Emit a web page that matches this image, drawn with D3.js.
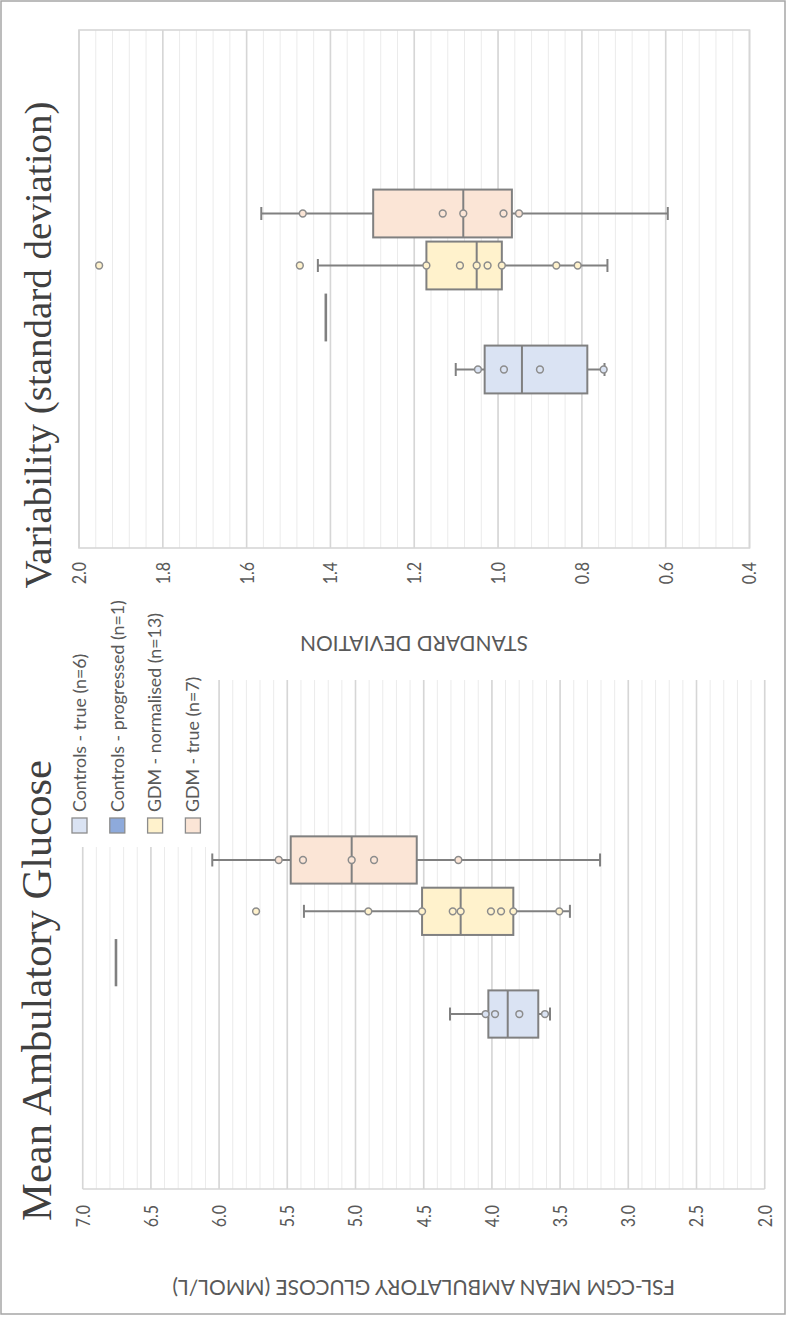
<!DOCTYPE html>
<html>
<head>
<meta charset="utf-8">
<script src="https://cdn.jsdelivr.net/npm/d3@7"></script>
<style>
  body { margin: 0; background: #ffffff; }
  svg { display: block; }
</style>
</head>
<body>
<svg id="chart" width="787" height="1317"></svg>
<script>
// ---------------- DATA ----------------
const series = ["Controls - true (n=6)", "Controls - progressed (n=1)", "GDM - normalised (n=13)", "GDM - true (n=7)"];
const seriesColors = ["#dae3f3", "#8eaadb", "#fff2cc", "#fbe5d6"];

// Mean ambulatory glucose (mmol/L)
const magTickLabels = [2.0, 2.5, 3.0, 3.5, 4.0, 4.5, 5.0, 5.5, 6.0, 6.5, 7.0];
const magQ1          = [3.660, 6.756, 3.843, 4.551];
const magMedian      = [3.884, 6.756, 4.229, 5.028];
const magQ3          = [4.026, 6.756, 4.512, 5.475];
const magWhiskerLow  = [3.574, 6.756, 3.428, 3.207];
const magWhiskerHigh = [4.307, 6.756, 5.378, 6.050];
const magPoints = [
  [4.046, 3.977, 3.799, 3.611],
  [],
  [5.729, 4.906, 4.512, 4.287, 4.229, 4.007, 3.933, 3.843, 3.506],
  [5.563, 5.385, 5.028, 4.864, 4.246]
];

// Variability (standard deviation)
const sdTickLabels = [0.4, 0.6, 0.8, 1.0, 1.2, 1.4, 1.6, 1.8, 2.0];
const sdQ1          = [0.787, 1.411, 0.991, 0.967];
const sdMedian      = [0.943, 1.411, 1.051, 1.083];
const sdQ3          = [1.032, 1.411, 1.171, 1.298];
const sdWhiskerLow  = [0.746, 1.411, 0.739, 0.595];
const sdWhiskerHigh = [1.101, 1.411, 1.430, 1.565];
const sdPoints = [
  [1.048, 0.986, 0.900, 0.748],
  [],
  [1.952, 1.473, 1.171, 1.091, 1.051, 1.025, 0.991, 0.861, 0.810],
  [1.466, 1.132, 1.083, 0.987, 0.950]
];

// ---------------- DRAWING ----------------
const svg = d3.select("#chart");
const FIG_W = 1317; // the figure is drawn landscape and then turned a quarter turn

const root = svg.append("g").attr("transform", `translate(0,${FIG_W}) rotate(-90)`);

const SANS = "Lato, 'Open Sans', 'Liberation Sans', sans-serif";
const SERIF = "'Liberation Serif', 'Times New Roman', serif";

function fitLen(sel, target) {
  const len = sel.node().getComputedTextLength();
  const fs = parseFloat(sel.attr("font-size"));
  sel.attr("font-size", fs * target / len);
  return fs * target / len;
}

function buildStats(q1, med, q3, wl, wh, pts) {
  return series.map((name, i) => ({
    name, color: seriesColors[i],
    q1: q1[i], median: med[i], q3: q3[i], lo: wl[i], hi: wh[i], points: pts[i]
  }));
}

function panel(o) {
  const g = root.append("g");
  const y = o.y;
  const [d0, d1] = y.domain();
  const nMinor = Math.round((d1 - d0) / o.minorStep);
  const minor = d3.range(nMinor + 1).map(i => d0 + i * o.minorStep);

  // gridlines
  g.append("g").selectAll("line").data(minor).join("line")
    .attr("x1", o.x0).attr("x2", o.x1)
    .attr("y1", d => y(d)).attr("y2", d => y(d))
    .attr("stroke", "#ebebeb").attr("stroke-width", 1);
  g.append("g").selectAll("line").data(o.ticks).join("line")
    .attr("x1", o.x0).attr("x2", o.x1)
    .attr("y1", d => y(d)).attr("y2", d => y(d))
    .attr("stroke", "#d6d6d6").attr("stroke-width", 1.6);

  // plot frame
  if (o.frame) {
    g.append("rect")
      .attr("x", o.x0).attr("y", y(d1)).attr("width", o.x1 - o.x0).attr("height", y(d0) - y(d1))
      .attr("fill", "none").attr("stroke", "#d6d6d6").attr("stroke-width", 1.6);
  } else {
    g.append("line").attr("x1", o.x0).attr("x2", o.x0).attr("y1", y(d1)).attr("y2", y(d0))
      .attr("stroke", "#d6d6d6").attr("stroke-width", 1.6);
  }

  // value axis
  const ax = g.append("g").attr("transform", `translate(${o.x0},0)`)
    .call(d3.axisLeft(y).tickValues(o.ticks).tickFormat(d3.format(".1f")).tickSize(0).tickPadding(o.pad));
  ax.select(".domain").remove();
  const sx = 0.8;
  ax.selectAll("text")
    .attr("font-family", SANS).attr("font-size", 20).attr("fill", "#595959")
    .attr("transform", `scale(${sx},1)`).attr("x", -o.pad / sx);

  // boxes
  const band = d3.scaleBand().domain(series).range(o.bandRange).paddingInner(0.08).paddingOuter(0.04);
  const bw = band.bandwidth();
  const cap = 13;
  const boxes = g.append("g").selectAll("g").data(o.stats).join("g")
    .attr("transform", d => `translate(${band(d.name)},0)`);

  boxes.each(function(d) {
    const b = d3.select(this);
    const cx = bw / 2;
    const stroke = "#808080";
    if (d.q3 > d.q1) {
      b.append("line").attr("x1", cx).attr("x2", cx).attr("y1", y(d.hi)).attr("y2", y(d.q3))
        .attr("stroke", stroke).attr("stroke-width", 2);
      b.append("line").attr("x1", cx).attr("x2", cx).attr("y1", y(d.q1)).attr("y2", y(d.lo))
        .attr("stroke", stroke).attr("stroke-width", 2);
      b.append("line").attr("x1", cx - cap / 2).attr("x2", cx + cap / 2).attr("y1", y(d.hi)).attr("y2", y(d.hi))
        .attr("stroke", stroke).attr("stroke-width", 2);
      b.append("line").attr("x1", cx - cap / 2).attr("x2", cx + cap / 2).attr("y1", y(d.lo)).attr("y2", y(d.lo))
        .attr("stroke", stroke).attr("stroke-width", 2);
      b.append("rect").attr("x", 0).attr("width", bw)
        .attr("y", y(d.q3)).attr("height", y(d.q1) - y(d.q3))
        .attr("fill", d.color).attr("stroke", stroke).attr("stroke-width", 2);
      b.append("line").attr("x1", 0).attr("x2", bw).attr("y1", y(d.median)).attr("y2", y(d.median))
        .attr("stroke", stroke).attr("stroke-width", 2);
    } else {
      b.append("line").attr("x1", 0).attr("x2", bw).attr("y1", y(d.median)).attr("y2", y(d.median))
        .attr("stroke", stroke).attr("stroke-width", 2.6);
    }
    b.selectAll("circle").data(d.points).join("circle")
      .attr("cx", cx).attr("cy", v => y(v)).attr("r", 3.4)
      .attr("fill", d.color).attr("stroke", "#8c8c8c").attr("stroke-width", 1.5);
  });
  return g;
}

// ---- left chart: Mean Ambulatory Glucose ----
const yMag = d3.scaleLinear().domain([2, 7]).range([764.7, 82.7]);
panel({
  x0: 128, x1: 637, y: yMag, minorStep: 0.1, ticks: magTickLabels, pad: 16, frame: false,
  bandRange: [277.3, 482.7],
  stats: buildStats(magQ1, magMedian, magQ3, magWhiskerLow, magWhiskerHigh, magPoints)
});

// legend (sits over the upper right of the left plot)
const leg = root.append("g");
leg.append("rect").attr("x", 470).attr("y", 60).attr("width", 256).attr("height", 157)
  .attr("fill", "#ffffff");
const legItems = leg.selectAll("g").data(series).join("g")
  .attr("transform", (d, i) => `translate(484,${79.5 + i * 37.8})`);
legItems.append("rect").attr("x", 0).attr("y", -7.5).attr("width", 15).attr("height", 15)
  .attr("fill", (d, i) => seriesColors[i]).attr("stroke", "#8c8c8c").attr("stroke-width", 1.3);
const legTexts = legItems.append("text").attr("x", 21).attr("dy", "0.35em")
  .attr("font-family", SANS).attr("font-size", 18).attr("fill", "#595959")
  .text(d => d);
const legFs = fitLen(d3.select(legTexts.nodes()[1]), 212);
legTexts.attr("font-size", legFs);

// titles
const t1 = root.append("text").attr("x", 326.5).attr("y", 51).attr("text-anchor", "middle")
  .attr("font-family", SERIF).attr("font-size", 42).attr("fill", "#404040")
  .text("Mean Ambulatory Glucose");
fitLen(t1, 461);
const t2 = root.append("text").attr("x", 972).attr("y", 51).attr("text-anchor", "middle")
  .attr("font-family", SERIF).attr("font-size", 40).attr("fill", "#404040")
  .text("Variability (standard deviation)");
fitLen(t2, 487);

// axis titles
const at1 = root.append("text").attr("transform", "translate(37,423.7) rotate(-90)")
  .attr("text-anchor", "middle").attr("font-family", SANS).attr("font-size", 21).attr("fill", "#595959")
  .text("FSL-CGM MEAN AMBULATORY GLUCOSE (MMOL/L)");
fitLen(at1, 503);

// ---- right chart: Variability ----
const ySd = d3.scaleLinear().domain([0.4, 2.0]).range([749.5, 79]);
panel({
  x0: 769, x1: 1287, y: ySd, minorStep: 0.04, ticks: sdTickLabels, pad: 14, frame: true,
  bandRange: [921.5, 1129.5],
  stats: buildStats(sdQ1, sdMedian, sdQ3, sdWhiskerLow, sdWhiskerHigh, sdPoints)
});

const at2 = root.append("text").attr("transform", "translate(681,414) rotate(-90)")
  .attr("text-anchor", "middle").attr("font-family", SANS).attr("font-size", 21).attr("fill", "#595959")
  .text("STANDARD DEVIATION");
fitLen(at2, 228);

// outer frame
svg.append("rect").attr("x", 1).attr("y", 1).attr("width", 784).attr("height", 1313)
  .attr("fill", "none").attr("stroke", "#a6a6a6").attr("stroke-width", 1.5);
</script>
</body>
</html>
